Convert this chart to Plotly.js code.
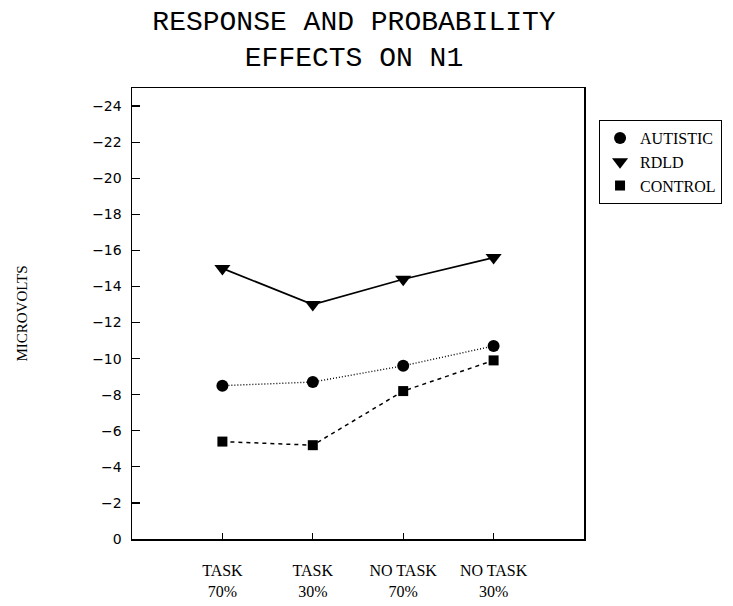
<!DOCTYPE html>
<html>
<head>
<meta charset="utf-8">
<script src="https://cdn.plot.ly/plotly-3.0.1.min.js"></script>
<style>html,body{margin:0;padding:0;background:#fff;}#chart{width:733px;height:606px;}</style>
</head>
<body>
<div id="chart"></div>
<script>
var conditions = ["TASK<br>70%", "TASK<br>30%", "NO TASK<br>70%", "NO TASK<br>30%"];
var conditionIndex = [0, 1, 2, 3];
var autistic = [-8.5, -8.7, -9.6, -10.7];
var rdld = [-15.0, -13.0, -14.4, -15.6];
var control = [-5.4, -5.2, -8.2, -9.9];
var yTicks = [0, -2, -4, -6, -8, -10, -12, -14, -16, -18, -20, -22, -24];

var serif = "Liberation Serif, Times New Roman, serif";
var mono = "Liberation Mono, Courier New, monospace";
var sans = "DejaVu Sans, Arial, sans-serif";

function lineTrace(y, dash, width) {
  return {x: conditionIndex, y: y, mode: "lines", showlegend: false, hoverinfo: "skip",
    line: {color: "#000", width: width, dash: dash}};
}
function markerTrace(name, y, symbol, size) {
  return {x: conditionIndex, y: y, mode: "markers", name: name,
    marker: {color: "#000", symbol: symbol, size: size, line: {width: 0}}};
}

var data = [
  lineTrace(autistic, "1px,2px", 1.4),
  lineTrace(rdld, "solid", 1.7),
  lineTrace(control, "4px,4px", 1.5),
  markerTrace("AUTISTIC", autistic, "circle", 12),
  markerTrace("RDLD", rdld, "triangle-down", 14),
  markerTrace("CONTROL", control, "square", 10)
];

var layout = {
  width: 733, height: 606,
  paper_bgcolor: "#fff", plot_bgcolor: "#fff",
  margin: {l: 132, r: 148, t: 88, b: 67},
  title: {text: "RESPONSE AND PROBABILITY<br>EFFECTS ON N1", font: {family: mono, size: 28, color: "#000"},
    x: 354 / 733, xanchor: "center", xref: "container", y: 1 - 30 / 606, yanchor: "middle", yref: "container"},
  xaxis: {range: [-1, 4], tickvals: conditionIndex, ticktext: conditions, showgrid: false, zeroline: false,
    showline: true, linecolor: "#000", linewidth: 1.5, mirror: true,
    ticks: "inside", ticklen: 6, tickwidth: 1.2, tickcolor: "#000", ticklabelstandoff: 16,
    tickfont: {family: serif, size: 16, color: "#000"}},
  yaxis: {range: [0, -25], tickvals: yTicks, showgrid: false, zeroline: false,
    showline: true, linecolor: "#000", linewidth: 1.5, mirror: true,
    ticks: "inside", ticklen: 8, tickwidth: 1.2, tickcolor: "#000", ticklabelstandoff: 6,
    tickfont: {family: sans, size: 14, color: "#000"},
    title: {text: "MICROVOLTS", font: {family: serif, size: 15, color: "#000"}, standoff: 61}},
  legend: {x: 1.031, y: 0.929, xanchor: "left", yanchor: "top", bordercolor: "#000", borderwidth: 1,
    bgcolor: "#fff", font: {family: serif, size: 16, color: "#000"}, itemwidth: 30, tracegroupgap: 0,
    entrywidth: 91, entrywidthmode: "pixels"}
};

Plotly.newPlot("chart", data, layout, {displayModeBar: false, staticPlot: true});
</script>
</body>
</html>
